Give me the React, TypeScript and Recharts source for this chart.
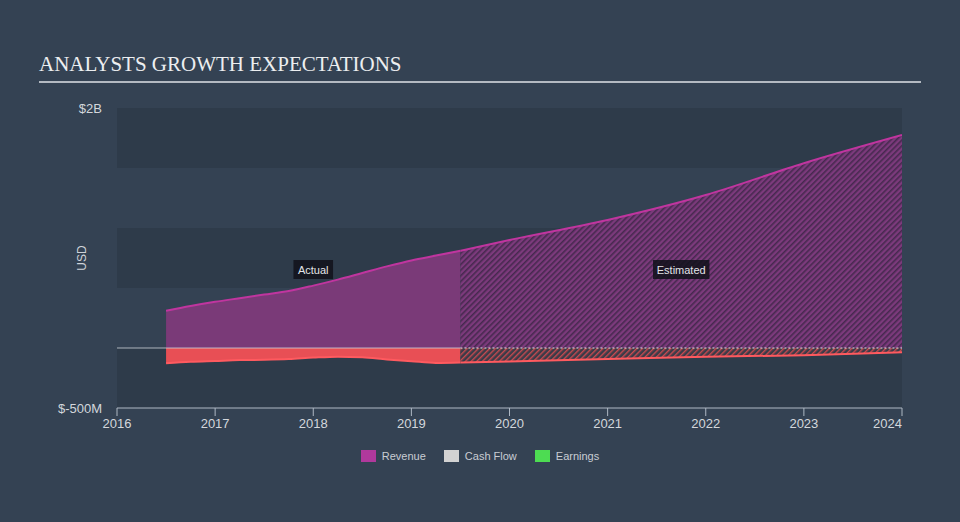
import { Area, ComposedChart, ReferenceArea, ReferenceDot, ReferenceLine, XAxis, YAxis } from 'recharts'

// values in USD millions
const actualYears = [2016.5, 2016.75, 2017, 2017.25, 2017.5, 2017.75, 2018, 2018.25, 2018.5, 2018.75, 2019, 2019.25, 2019.5]
const actualRevenue = [310, 350, 385, 415, 445, 475, 520, 570, 625, 680, 730, 770, 810]
const actualEarnings = [-127, -115, -108, -101, -98, -92, -80, -72, -78, -95, -110, -124, -120]

const estYears = [2019.5, 2020, 2021, 2022, 2023, 2024]
const estRevenue = [810, 900, 1067, 1275, 1540, 1775]
const estEarnings = [-120, -112, -92, -73, -60, -35]

const xTicks = [2016, 2017, 2018, 2019, 2020, 2021, 2022, 2023, 2024]
const yTicks = [-500, 2000]
const bandEdges = [-500, 0, 500, 1000, 1500, 2000]

const fmtUsd = (v: number) => (Math.abs(v) >= 1000 ? `$${v / 1000}B` : `$${v}M`)

const FONT = '"Liberation Sans", Arial, sans-serif'

type Row = { x: number; revA?: number; revE?: number; earnA?: number; earnE?: number }

const rows: Row[] = []
actualYears.forEach((x, i) => rows.push({ x, revA: actualRevenue[i], earnA: actualEarnings[i] }))
estYears.forEach((x, i) => {
  const r = rows.find((row) => row.x === x)
  if (r) {
    r.revE = estRevenue[i]
    r.earnE = estEarnings[i]
  } else rows.push({ x, revE: estRevenue[i], earnE: estEarnings[i] })
})

const XTick = (props: any) => {
  const { x, y, payload } = props
  const last = payload.value === xTicks[xTicks.length - 1]
  return (
    <text x={x} y={y} dy={10} textAnchor={last ? 'end' : 'middle'} fill="#d3d7dc" fontSize={13} fontFamily={FONT}>
      {payload.value}
    </text>
  )
}

const Tag = ({ text }: { text: string }) => (props: any) => {
  const { cx, cy } = props
  const w = text.length * 5.6 + 6
  return (
    <g>
      <rect x={cx - w / 2} y={cy - 10} width={w} height={19} fill="rgba(16,18,26,0.85)" />
      <text x={cx} y={cy + 4} textAnchor="middle" fill="#e2e4e8" fontSize={11} fontFamily={FONT}>
        {text}
      </text>
    </g>
  )
}

const legendItems = [
  { name: 'Revenue', color: '#b0399c' },
  { name: 'Cash Flow', color: '#d2d2d2' },
  { name: 'Earnings', color: '#4ddc52' },
]

export default function App() {
  return (
    <div style={{ position: 'absolute', left: 0, top: 0, width: 960, height: 522, background: '#344253', fontFamily: FONT, overflow: 'hidden' }}>
      <div style={{ position: 'absolute', left: 39, top: 52, fontFamily: '"Liberation Serif", "DejaVu Serif", serif', fontSize: 21, color: '#eceef0' }}>
        ANALYSTS GROWTH EXPECTATIONS
      </div>
      <div style={{ position: 'absolute', left: 39, top: 81, width: 882, height: 2, background: '#b4bac2' }} />
      <div style={{ position: 'absolute', left: 82, top: 258, transform: 'translate(-50%, -50%) rotate(-90deg)', fontSize: 12, color: '#cfd3d8' }}>
        USD
      </div>
      <div style={{ position: 'absolute', left: 0, top: 0 }}>
        <ComposedChart width={960} height={522} data={rows} margin={{ top: 108, right: 58, bottom: 84, left: 57 }}>
          <defs>
            <pattern id="hatchRev" patternUnits="userSpaceOnUse" width={4} height={4} patternTransform="rotate(45)">
              <rect width={4} height={4} fill="#7c3a7c" />
              <rect width={1.6} height={4} fill="#46294f" />
            </pattern>
            <pattern id="hatchEarn" patternUnits="userSpaceOnUse" width={4} height={4} patternTransform="rotate(45)">
              <rect width={4} height={4} fill="#3a3b48" />
              <rect width={1.4} height={4} fill="#c94a50" />
            </pattern>
          </defs>
          {bandEdges.slice(0, -1).map((lo, i) => (
            <ReferenceArea
              key={lo}
              y1={lo}
              y2={bandEdges[i + 1]}
              fill={i % 2 === 0 ? '#2e3b4a' : '#344253'}
              fillOpacity={1}
              stroke="none"
            />
          ))}
          <XAxis
            type="number"
            dataKey="x"
            domain={[2016, 2024]}
            ticks={xTicks}
            interval={0}
            height={30}
            stroke="#aeb8c4"
            tickSize={8}
            tick={<XTick />}
            allowDataOverflow
          />
          <YAxis
            type="number"
            domain={[-500, 2000]}
            ticks={yTicks}
            width={60}
            axisLine={false}
            tickLine={false}
            tickFormatter={fmtUsd}
            tick={{ fill: '#d3d7dc', fontSize: 13, fontFamily: FONT }}
            tickMargin={9}
          />
          <Area
            type="monotone"
            dataKey="revA"
            stroke="#c0359f"
            strokeWidth={2}
            fill="#7a3a78"
            fillOpacity={1}
            isAnimationActive={false}
            dot={false}
          />
          <Area
            type="monotone"
            dataKey="revE"
            stroke="#c0359f"
            strokeWidth={2}
            fill="url(#hatchRev)"
            fillOpacity={1}
            isAnimationActive={false}
            dot={false}
          />
          <Area
            type="monotone"
            dataKey="earnA"
            stroke="#ff5a5f"
            strokeWidth={2}
            fill="#e84f55"
            fillOpacity={1}
            isAnimationActive={false}
            dot={false}
          />
          <Area
            type="monotone"
            dataKey="earnE"
            stroke="#ff5a5f"
            strokeWidth={2}
            fill="url(#hatchEarn)"
            fillOpacity={1}
            isAnimationActive={false}
            dot={false}
          />
          <ReferenceLine
            segment={[{ x: 2016, y: 0 }, { x: 2019.5, y: 0 }]}
            stroke="#cdd3da"
            strokeWidth={1}
            strokeOpacity={0.8}
          />
          <ReferenceLine
            segment={[{ x: 2019.5, y: 0 }, { x: 2024, y: 0 }]}
            stroke="#e0e3e8"
            strokeWidth={1}
            strokeDasharray="2 2"
          />
          <ReferenceDot x={2018} y={650} r={0} shape={Tag({ text: 'Actual' })} />
          <ReferenceDot x={2021.75} y={650} r={0} shape={Tag({ text: 'Estimated' })} />
        </ComposedChart>
      </div>
      <div style={{ position: 'absolute', top: 450, left: 0, width: 960, display: 'flex', justifyContent: 'center', gap: 18, fontSize: 11, color: '#c9cdd3' }}>
        {legendItems.map((it) => (
          <div key={it.name} style={{ display: 'flex', alignItems: 'center', gap: 6 }}>
            <span style={{ width: 15, height: 12, background: it.color, display: 'inline-block' }} />
            <span>{it.name}</span>
          </div>
        ))}
      </div>
    </div>
  )
}
